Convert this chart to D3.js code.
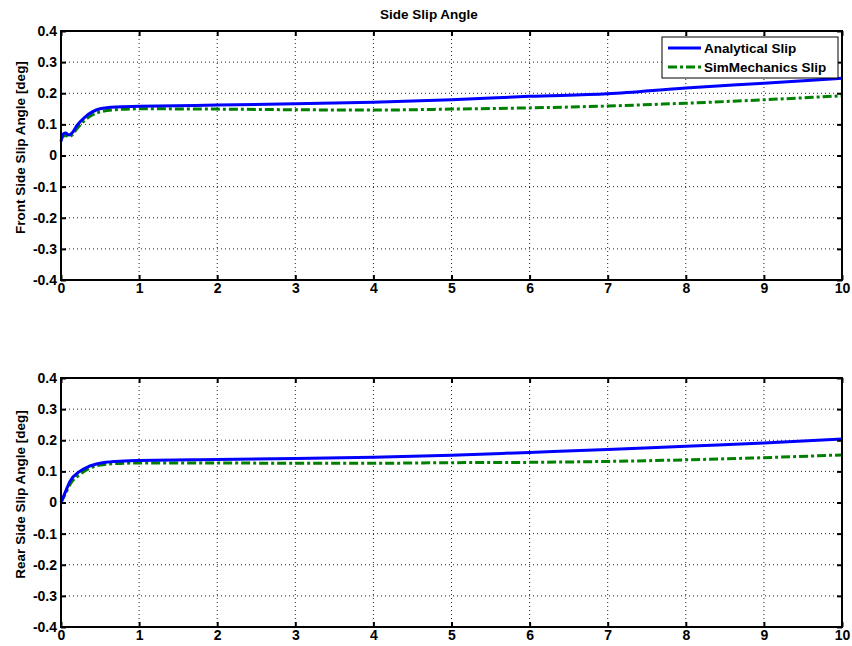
<!DOCTYPE html>
<html><head><meta charset="utf-8">
<script src="https://cdn.jsdelivr.net/npm/d3@7"></script>
<style>
body{margin:0;background:#fff;}
text{font-family:"Liberation Sans",Arial,sans-serif;font-weight:bold;}
</style></head>
<body><svg id="c" width="852" height="646"></svg>
<script>
const title = "Side Slip Angle";
const xTicks = [0,1,2,3,4,5,6,7,8,9,10];
const yTicks = [-0.4,-0.3,-0.2,-0.1,0,0.1,0.2,0.3,0.4];
const yTickLabels = ["-0.4","-0.3","-0.2","-0.1","0","0.1","0.2","0.3","0.4"];
const seriesNames = ["Analytical Slip","SimMechanics Slip"];
const yLabels = ["Front Side Slip Angle [deg]","Rear Side Slip Angle [deg]"];

const frontT = [0,0.03,0.06,0.1,0.15,0.2,0.3,0.4,0.5,0.7,1,2,3,4,5,6,7,8,9,10];
const frontAnalytical = [0.045,0.07,0.072,0.066,0.075,0.095,0.122,0.14,0.15,0.156,0.158,0.162,0.166,0.171,0.179,0.19,0.198,0.217,0.232,0.248];
const frontSim = [0.05,0.062,0.064,0.06,0.068,0.085,0.112,0.13,0.14,0.147,0.15,0.149,0.147,0.146,0.149,0.153,0.159,0.168,0.179,0.192];

const rearT = [0,0.05,0.115,0.24,0.35,0.5,0.7,1,2,3,4,5,6,7,8,9,10];
const rearAnalytical = [0,0.03,0.068,0.1,0.115,0.126,0.132,0.135,0.138,0.141,0.145,0.152,0.161,0.17,0.181,0.191,0.204];
const rearSim = [0,0.025,0.058,0.09,0.108,0.12,0.125,0.127,0.127,0.126,0.126,0.128,0.129,0.132,0.137,0.144,0.153];

const svg = d3.select("#c");
const left = 61, right = 842;
const panels = [
  {top:31, bottom:280, t:frontT, a:frontAnalytical, s:frontSim, label:yLabels[0], legend:true},
  {top:378, bottom:627, t:rearT, a:rearAnalytical, s:rearSim, label:yLabels[1], legend:false}
];
const colors = ["#0000ff","#008000"];
const FS = 13.5;

svg.append("text").attr("x",429).attr("y",19).attr("text-anchor","middle")
  .attr("font-size",FS).text(title);

panels.forEach(p=>{
  const x = d3.scaleLinear().domain([0,10]).range([left,right]);
  const y = d3.scaleLinear().domain([-0.4,0.4]).range([p.bottom,p.top]);
  const g = svg.append("g");
  // grid
  g.selectAll(".gx").data(xTicks.slice(1,-1)).enter().append("line")
    .attr("x1",d=>x(d)).attr("x2",d=>x(d)).attr("y1",p.top).attr("y2",p.bottom)
    .attr("stroke","#222").attr("stroke-width",1).attr("stroke-dasharray","1,3");
  g.selectAll(".gy").data(yTicks.slice(1,-1)).enter().append("line")
    .attr("y1",d=>y(d)).attr("y2",d=>y(d)).attr("x1",left).attr("x2",right)
    .attr("stroke","#222").attr("stroke-width",1).attr("stroke-dasharray","1,3");
  // lines
  const line = d3.line().x((d,i)=>x(p.t[i])).y(d=>y(d)).curve(d3.curveMonotoneX);
  g.append("path").attr("d",line(p.s)).attr("fill","none").attr("stroke",colors[1])
    .attr("stroke-width",3).attr("stroke-dasharray","9,3,3,3");
  g.append("path").attr("d",line(p.a)).attr("fill","none").attr("stroke",colors[0])
    .attr("stroke-width",3);
  // axes
  const ax = g.append("g").attr("transform",`translate(0,${p.bottom})`)
    .call(d3.axisBottom(x).tickValues(xTicks).tickFormat(d3.format("d")).tickSizeInner(-5).tickSizeOuter(0).tickPadding(3));
  const ay = g.append("g").attr("transform",`translate(${left},0)`)
    .call(d3.axisLeft(y).tickValues(yTicks).tickFormat((d,i)=>yTickLabels[i]).tickSizeInner(-5).tickSizeOuter(0).tickPadding(4));
  const axT = g.append("g").attr("transform",`translate(0,${p.top})`)
    .call(d3.axisTop(x).tickValues(xTicks).tickFormat("").tickSizeInner(-5).tickSizeOuter(0));
  const ayR = g.append("g").attr("transform",`translate(${right},0)`)
    .call(d3.axisRight(y).tickValues(yTicks).tickFormat("").tickSizeInner(-5).tickSizeOuter(0));
  [ax,ay,axT,ayR].forEach(a=>{
    a.selectAll("path").attr("stroke","#000").attr("stroke-width",2);
    a.selectAll("line").attr("stroke","#000").attr("stroke-width",2);
    a.selectAll("text").attr("font-size",14).attr("fill","#000")
      .style("font-family","'Liberation Sans',Arial,sans-serif").style("font-weight","bold");
  });
  ax.select(".domain").remove();
  ay.select(".domain").remove();
  axT.select(".domain").remove();
  ayR.select(".domain").remove();
  g.append("rect").attr("x",left).attr("y",p.top).attr("width",right-left).attr("height",p.bottom-p.top)
    .attr("fill","none").attr("stroke","#000").attr("stroke-width",2);
  // y label
  g.append("text").attr("transform",`translate(25,${(p.top+p.bottom)/2 - 8}) rotate(-90)`)
    .attr("text-anchor","middle").attr("font-size",FS).text(p.label);
  if(p.legend){
    const lg = g.append("g");
    lg.append("rect").attr("x",662).attr("y",37).attr("width",176).attr("height",41)
      .attr("fill","#fff").attr("stroke","#000").attr("stroke-width",1);
    seriesNames.forEach((n,i)=>{
      const yy = 48 + i*19;
      lg.append("line").attr("x1",668).attr("x2",701).attr("y1",yy).attr("y2",yy)
        .attr("stroke",colors[i]).attr("stroke-width",3)
        .attr("stroke-dasharray", i===1 ? "9,3,3,3" : null);
      lg.append("text").attr("x",704).attr("y",yy+5).attr("font-size",FS).text(n);
    });
  }
});
</script></body></html>
